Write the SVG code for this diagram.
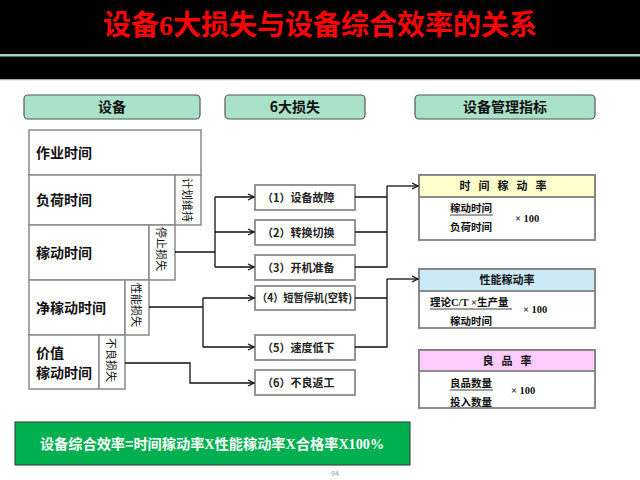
<svg xmlns="http://www.w3.org/2000/svg" width="640" height="480" viewBox="0 0 640 480">
<style>
text{font-family:"Noto Sans CJK SC","Noto Sans",sans-serif;}
.hdr{fill:#a9e2c8;stroke:#555;stroke-width:1.2;}
.hdrt{font-size:14px;font-weight:bold;fill:#111;text-anchor:middle;}
.blk{fill:#fff;stroke:#8a8a8a;stroke-width:1.5;}
.lbl{font-size:14px;font-weight:bold;fill:#111;}
.vt{font-size:11px;fill:#111;text-anchor:middle;dominant-baseline:central;}
.loss{fill:#fff;stroke:#8a8a8a;stroke-width:1.8;}
.losst{font-size:11px;font-weight:bold;fill:#222;}
.rb{fill:#fff;stroke:#808080;stroke-width:1.8;}
.rt{font-size:11px;font-weight:bold;fill:#111;text-anchor:middle;}
.rc{font-size:10.5px;font-weight:bold;fill:#111;}
.num{font-family:"Liberation Serif",serif;font-size:10.5px;font-weight:bold;fill:#111;}
.con{fill:none;stroke:#111;stroke-width:1.3;}
.ser{font-family:"Liberation Serif",serif;}
</style>
<defs>
<marker id="arr" markerWidth="8" markerHeight="8" refX="7" refY="4" orient="auto" markerUnits="userSpaceOnUse">
<path d="M1,1 L7,4 L1,7" fill="none" stroke="#111" stroke-width="1.3"/>
</marker>
</defs>
<rect x="0" y="0" width="640" height="80" fill="#000"/>
<rect x="0" y="54" width="640" height="2.5" fill="#9ed9c0"/>
<rect x="0" y="79" width="640" height="1.2" fill="#aaa"/>
<text x="320" y="35" font-size="28" font-weight="bold" fill="#ff0000" text-anchor="middle">设备<tspan class="ser">6</tspan>大损失与设备综合效率的关系</text>

<g id="hdr-equip"><rect class="hdr" x="24" y="95" width="176" height="24" rx="4"/><text class="hdrt" x="112" y="112">设备</text></g>
<g id="hdr-loss"><rect class="hdr" x="225" y="95" width="140" height="24" rx="4"/><text class="hdrt" x="295" y="112">6大损失</text></g>
<g id="hdr-index"><rect class="hdr" x="415" y="95" width="180" height="24" rx="4"/><text class="hdrt" x="505" y="112">设备管理指标</text></g>

<g id="work-time"><rect class="blk" x="29" y="130" width="172" height="45"/><text class="lbl" x="36" y="158">作业时间</text></g>
<g id="load-time"><rect class="blk" x="29" y="175" width="146" height="50"/><text class="lbl" x="36" y="205">负荷时间</text></g>
<g id="plan-maint"><rect class="blk" x="175" y="175" width="26" height="50"/><text class="vt" transform="translate(188,200) rotate(90)">计划维持</text></g>
<g id="run-time"><rect class="blk" x="29" y="225" width="120" height="55"/><text class="lbl" x="36" y="258">稼动时间</text></g>
<g id="stop-loss"><rect class="blk" x="149" y="225" width="26" height="55"/><text class="vt" transform="translate(162,249) rotate(90)">停止损失</text></g>
<g id="net-run-time"><rect class="blk" x="29" y="280" width="96" height="55"/><text class="lbl" x="36" y="313">净稼动时间</text></g>
<g id="perf-loss"><rect class="blk" x="125" y="280" width="24" height="55"/><text class="vt" transform="translate(137,305) rotate(90)">性能损失</text></g>
<g id="value-time"><rect class="blk" x="29" y="335" width="70" height="54"/><text class="lbl" x="36" y="358">价值</text><text class="lbl" x="36" y="378">稼动时间</text></g>
<g id="defect-loss"><rect class="blk" x="99" y="335" width="26" height="54"/><text class="vt" transform="translate(112,360) rotate(90)">不良损失</text></g>

<g id="loss1"><rect class="loss" x="255" y="185" width="100" height="25"/><text class="losst" x="262" y="201.5">（1）设备故障</text></g>
<g id="loss2"><rect class="loss" x="255" y="220" width="100" height="25"/><text class="losst" x="262" y="236.5">（2）转换切换</text></g>
<g id="loss3"><rect class="loss" x="255" y="255" width="100" height="25"/><text class="losst" x="262" y="271.5">（3）开机准备</text></g>
<g id="loss4"><rect class="loss" x="255" y="286" width="100" height="24"/><text class="losst" x="257" y="302" textLength="95" lengthAdjust="spacingAndGlyphs">（4）短暂停机(空转)</text></g>
<g id="loss5"><rect class="loss" x="255" y="335" width="100" height="25"/><text class="losst" x="262" y="351.5">（5）速度低下</text></g>
<g id="loss6"><rect class="loss" x="255" y="370" width="100" height="25"/><text class="losst" x="262" y="386.5">（6）不良返工</text></g>

<g id="time-rate">
<rect class="rb" x="419" y="175" width="176" height="65"/>
<rect x="419" y="175" width="176" height="22" fill="#ffffcc" stroke="#808080" stroke-width="1.8"/>
<text class="rt" x="507" y="190" letter-spacing="8">时间稼动率</text>
<text class="rc" x="450" y="212">稼动时间</text><line x1="450" y1="215" x2="493" y2="215" stroke="#111" stroke-width="0.8"/>
<text class="rc" x="450" y="231">负荷时间</text>
<text class="num" x="515" y="222">× 100</text>
</g>
<g id="perf-rate">
<rect class="rb" x="419" y="269" width="176" height="59"/>
<rect x="419" y="269" width="176" height="22" fill="#cce9f8" stroke="#808080" stroke-width="1.8"/>
<text class="rt" x="507" y="284">性能稼动率</text>
<text class="rc" x="430" y="306">理论<tspan class="num">C/T ×</tspan>生产量</text><line x1="430" y1="309" x2="512" y2="309" stroke="#111" stroke-width="0.8"/>
<text class="rc" x="450" y="325">稼动时间</text>
<text class="num" x="523" y="313">× 100</text>
</g>
<g id="quality-rate">
<rect class="rb" x="419" y="350" width="176" height="58"/>
<rect x="419" y="350" width="176" height="21" fill="#ffccff" stroke="#808080" stroke-width="1.8"/>
<text class="rt" x="511" y="365" letter-spacing="8">良品率</text>
<text class="rc" x="450" y="387">良品数量</text><line x1="450" y1="390" x2="493" y2="390" stroke="#111" stroke-width="0.8"/>
<text class="rc" x="450" y="406">投入数量</text>
<text class="num" x="511" y="394">× 100</text>
</g>

<g id="connectors">
<path class="con" d="M175,252 H215"/>
<path class="con" d="M215,197 V267"/>
<path class="con" d="M215,197 H254" marker-end="url(#arr)"/>
<path class="con" d="M215,232 H254" marker-end="url(#arr)"/>
<path class="con" d="M215,267 H254" marker-end="url(#arr)"/>
<path class="con" d="M149,307 H203"/>
<path class="con" d="M203,298 V347"/>
<path class="con" d="M203,298 H254" marker-end="url(#arr)"/>
<path class="con" d="M203,347 H254" marker-end="url(#arr)"/>
<path class="con" d="M125,363 H190 V383 H254" marker-end="url(#arr)"/>
<path class="con" d="M355,197 H387 M355,232 H387 M355,267 H387 V186"/>
<path class="con" d="M387,186 H418" marker-end="url(#arr)"/>
<path class="con" d="M355,298 H387 M355,347 H387 V279"/>
<path class="con" d="M387,279 H418" marker-end="url(#arr)"/>
</g>

<g id="oee">
<rect x="15" y="422" width="395" height="43" fill="#00b050" stroke="#333" stroke-width="1"/>
<text x="212" y="449" font-size="14.2" font-weight="bold" fill="#fff" text-anchor="middle">设备综合效率=时间稼动率<tspan class="ser">X</tspan>性能稼动率<tspan class="ser">X</tspan>合格率<tspan class="ser">X100%</tspan></text>
</g>
<text x="335" y="476" font-size="7" fill="#999" text-anchor="middle" font-family="Liberation Sans, sans-serif">94</text>
</svg>
